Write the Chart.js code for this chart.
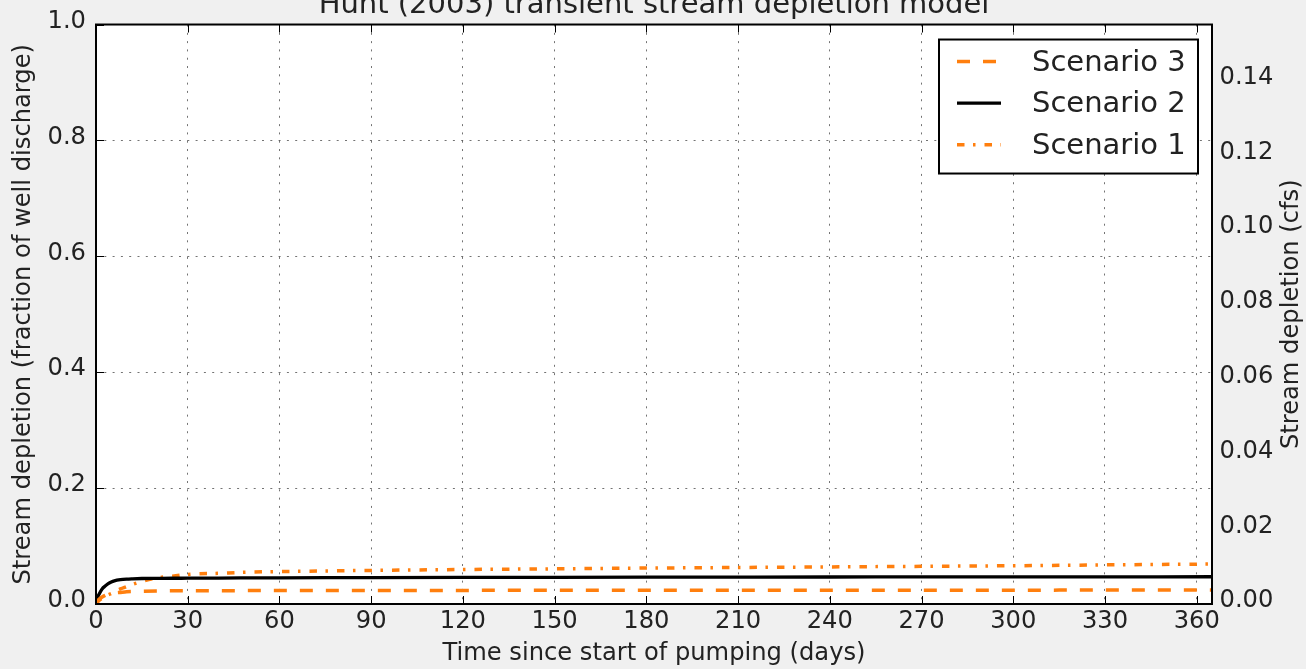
<!DOCTYPE html>
<html>
<head>
<meta charset="utf-8">
<style>
html,body{margin:0;padding:0;background:#f0f0f0;}
#wrap{width:1306px;height:669px;position:relative;}
</style>
<script src="https://cdn.jsdelivr.net/npm/chart.js@4.4.0/dist/chart.umd.min.js"></script>
</head>
<body>
<div id="wrap"><canvas id="c" width="1306" height="669"></canvas></div>
<script>
// ---- data ----
const chartTitle = 'Hunt (2003) transient stream depletion model';
const xAxisLabel = 'Time since start of pumping (days)';
const yLeftLabel = 'Stream depletion (fraction of well discharge)';
const yRightLabel = 'Stream depletion (cfs)';
const seriesLabels = ['Scenario 3', 'Scenario 2', 'Scenario 1'];

const days      = [0, 0.5, 1, 2, 3, 4, 5, 6, 8, 10, 12, 15, 20, 25, 30, 40, 50, 60, 75, 90, 120, 150, 180, 210, 240, 270, 300, 330, 365];
const scenario3 = [0, 0.005, 0.008, 0.012, 0.015, 0.017, 0.018, 0.019, 0.020, 0.021, 0.0215, 0.022, 0.0225, 0.0227, 0.0228, 0.023, 0.0231, 0.0232, 0.0233, 0.0234, 0.0235, 0.0236, 0.0237, 0.0238, 0.0238, 0.0239, 0.0239, 0.024, 0.024];
const scenario2 = [0, 0.011, 0.017, 0.026, 0.031, 0.035, 0.038, 0.040, 0.042, 0.043, 0.0435, 0.044, 0.0442, 0.0444, 0.0445, 0.0448, 0.045, 0.0452, 0.0454, 0.0456, 0.0459, 0.0461, 0.0463, 0.0465, 0.0466, 0.0467, 0.0468, 0.0469, 0.047];
const scenario1 = [0, 0.003, 0.006, 0.010, 0.013, 0.016, 0.018, 0.021, 0.026, 0.030, 0.034, 0.039, 0.045, 0.048, 0.051, 0.053, 0.055, 0.056, 0.057, 0.058, 0.0595, 0.0607, 0.062, 0.063, 0.064, 0.065, 0.066, 0.0675, 0.069];

const xMin = 0, xMax = 365, xStep = 30;
const yLeftMin = 0, yLeftMax = 1.0, yLeftStep = 0.2;
const yRightMin = 0, yRightMax = 0.155, yRightStep = 0.02;

// ---- styles ----
const FONT = 'DejaVu Sans';
const TEXT = '#222222';
const ORANGE = '#ff7f0e';
const BASE = 24.2, LARGE = 29;

function pts(ys) { return days.map((d, i) => ({x: d, y: ys[i]})); }

const bgPlugin = {
  id: 'bg',
  beforeDraw(chart) {
    const {ctx, chartArea: a} = chart;
    ctx.save();
    ctx.fillStyle = '#f0f0f0';
    ctx.fillRect(0, 0, chart.width, chart.height);
    ctx.fillStyle = '#ffffff';
    ctx.fillRect(a.left, a.top, a.right - a.left, a.bottom - a.top);
    ctx.restore();
  }
};

const frameTicksPlugin = {
  id: 'frameTicks',
  afterDatasetsDraw(chart) {
    const {ctx, chartArea: a, scales} = chart;
    ctx.save();
    ctx.strokeStyle = '#000';
    ctx.lineWidth = 1;
    const tl = 8;
    ctx.beginPath();
    scales.x.ticks.forEach(t => {
      const px = Math.round(scales.x.getPixelForValue(t.value)) + 0.5;
      ctx.moveTo(px, a.bottom); ctx.lineTo(px, a.bottom - tl);
      ctx.moveTo(px, a.top); ctx.lineTo(px, a.top + tl);
    });
    scales.y.ticks.forEach(t => {
      const py = Math.round(scales.y.getPixelForValue(t.value)) + 0.5;
      ctx.moveTo(a.left, py); ctx.lineTo(a.left + tl, py);
    });
    ctx.stroke();
    ctx.lineWidth = 2;
    ctx.strokeRect(a.left, a.top, a.right - a.left, a.bottom - a.top);
    ctx.restore();
  }
};

const titleLegendPlugin = {
  id: 'titleLegend',
  afterDraw(chart) {
    const {ctx, chartArea: a} = chart;
    ctx.save();
    // title
    ctx.fillStyle = TEXT;
    ctx.font = LARGE + 'px "' + FONT + '"';
    ctx.textAlign = 'center';
    ctx.textBaseline = 'alphabetic';
    ctx.fillText(chartTitle, (a.left + a.right) / 2, 13);
    // right axis title (reads bottom to top)
    ctx.save();
    ctx.font = BASE + 'px "' + FONT + '"';
    ctx.translate(chart.width - 14.5, (a.top + a.bottom) / 2);
    ctx.rotate(-Math.PI / 2);
    ctx.textAlign = 'center';
    ctx.textBaseline = 'middle';
    ctx.fillText(yRightLabel, 0, 0);
    ctx.restore();
    // legend
    const bw = 259, bh = 134;
    const bx = Math.round(a.right - 14.5 - bw), by = a.top + 15;
    ctx.fillStyle = '#ffffff';
    ctx.fillRect(bx, by, bw, bh);
    ctx.strokeStyle = '#000';
    ctx.lineWidth = 2;
    ctx.strokeRect(bx, by, bw, bh);
    const baselines = [31, 72.7, 114.3];
    chart.data.datasets.forEach((ds, i) => {
      const yb = by + baselines[i];
      ctx.save();
      ctx.strokeStyle = ds.borderColor;
      ctx.lineWidth = ds.borderWidth;
      ctx.setLineDash(ds.borderDash || []);
      ctx.beginPath();
      ctx.moveTo(bx + 18, yb - 9);
      ctx.lineTo(bx + 62, yb - 9);
      ctx.stroke();
      ctx.restore();
      ctx.fillStyle = TEXT;
      ctx.font = LARGE + 'px "' + FONT + '"';
      ctx.textAlign = 'left';
      ctx.textBaseline = 'alphabetic';
      ctx.fillText(ds.label, bx + 93, yb);
    });
    ctx.restore();
  }
};

const tickFont = {family: FONT, size: BASE};
const gridCommon = {color: 'rgba(0,0,0,0.55)', lineWidth: 1, drawTicks: false};

new Chart(document.getElementById('c'), {
  type: 'line',
  data: {
    datasets: [
      {label: seriesLabels[0], data: pts(scenario3), borderColor: ORANGE, borderWidth: 3.5, borderDash: [13, 13], yAxisID: 'y'},
      {label: seriesLabels[1], data: pts(scenario2), borderColor: '#000000', borderWidth: 3.3, borderDash: [], yAxisID: 'y'},
      {label: seriesLabels[2], data: pts(scenario1), borderColor: ORANGE, borderWidth: 3.5, borderDash: [7.5, 8.5, 2.5, 9], yAxisID: 'y'}
    ]
  },
  options: {
    responsive: false,
    animation: false,
    devicePixelRatio: 1,
    layout: {padding: {top: 24, left: 0, right: 0, bottom: 0}},
    elements: {point: {radius: 0}, line: {cubicInterpolationMode: 'monotone', fill: false}},
    plugins: {legend: {display: false}, title: {display: false}, tooltip: {enabled: false}},
    scales: {
      x: {
        type: 'linear', position: 'bottom', min: xMin, max: xMax,
        ticks: {stepSize: xStep, includeBounds: false, font: tickFont, color: TEXT, padding: 2.8, maxRotation: 0, autoSkip: false},
        grid: gridCommon,
        border: {display: false, dash: [2, 6.3]},
        title: {display: true, text: xAxisLabel, font: tickFont, color: TEXT, padding: {top: 0, bottom: 1}},
        afterFit(s) { s.height = 65; }
      },
      y: {
        type: 'linear', position: 'left', min: yLeftMin, max: yLeftMax,
        ticks: {stepSize: yLeftStep, font: tickFont, color: TEXT, padding: 10, labelOffset: -3,
                callback: v => v.toFixed(1)},
        grid: gridCommon,
        border: {display: false, dash: [2, 6.3]},
        title: {display: true, text: yLeftLabel, font: tickFont, color: TEXT, padding: {top: 9, bottom: 0}},
        afterFit(s) { s.width = 96; }
      },
      y2: {
        type: 'linear', position: 'right', min: yRightMin, max: yRightMax,
        ticks: {stepSize: yRightStep, includeBounds: false, font: tickFont, color: TEXT, padding: 7.5, labelOffset: -3,
                callback: v => v.toFixed(2)},
        grid: {display: false, drawTicks: false},
        border: {display: false},
        title: {display: false},
        afterFit(s) { s.width = 94; }
      }
    }
  },
  plugins: [bgPlugin, frameTicksPlugin, titleLegendPlugin]
});
</script>
</body>
</html>
